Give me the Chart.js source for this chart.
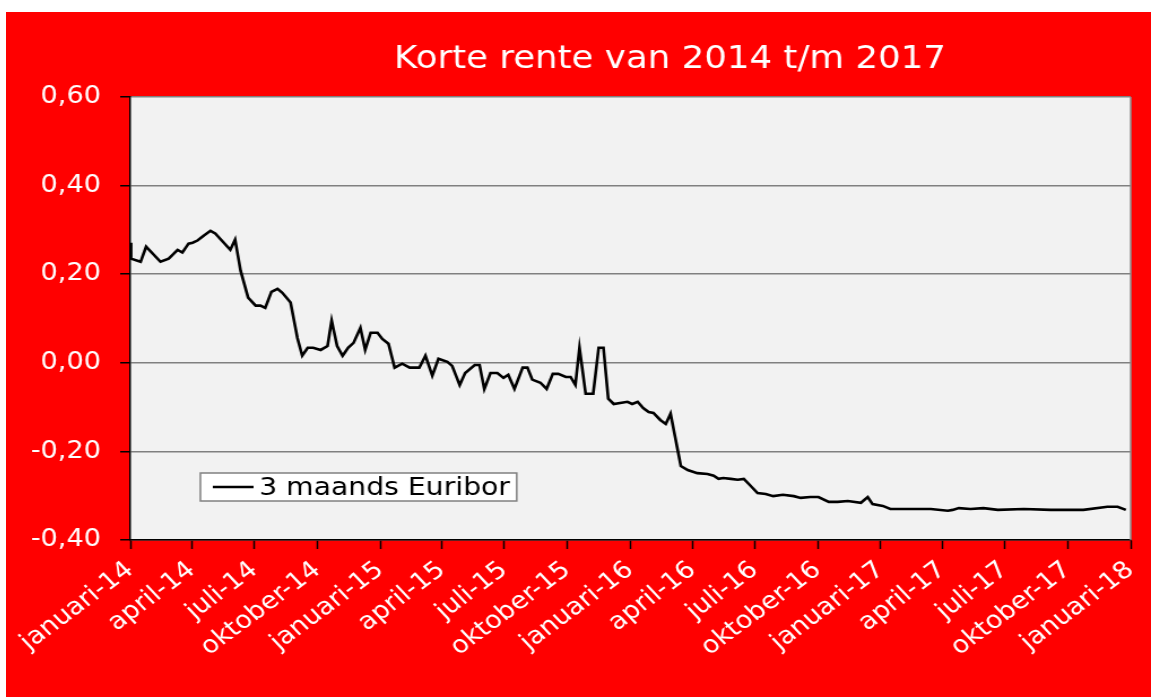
<!DOCTYPE html>
<html lang="nl">
<head>
<meta charset="utf-8">
<title>Korte rente van 2014 t/m 2017</title>
<script src="https://cdn.jsdelivr.net/npm/chart.js@4/dist/chart.umd.min.js"></script>
<style>
  html, body { margin: 0; padding: 0; background: #fff; overflow: hidden; }
  #wrap { position: absolute; left: 6px; top: 12px; }
</style>
</head>
<body>
<div id="wrap">
  <!-- drawn at 1013 wide, shown 1145 wide: the sheet is stretched sideways -->
  <canvas id="rente" width="1013" height="685" style="width:1145px;height:685px"></canvas>
</div>
<script>
// dag = days since 1 januari 2014
const dagen = [0, 1, 15, 23, 44, 56, 69, 76, 85, 91,
  98, 107, 117, 124, 146, 153, 161, 172, 183, 190,
  197, 206, 215, 222, 234, 244, 251, 259, 267, 278,
  288, 294, 302, 310, 318, 326, 336, 343, 351, 361,
  368, 377, 386, 397, 408, 422, 431, 441, 450, 463,
  470, 481, 489, 503, 510, 517, 526, 536, 545, 552,
  561, 573, 580, 587, 599, 608, 617, 625, 636, 643,
  650, 656, 665, 676, 684, 691, 698, 706, 726, 733,
  741, 749, 757, 764, 774, 782, 789, 804, 814, 828,
  843, 852, 859, 866, 877, 887, 896, 903, 916, 928,
  939, 953, 969, 979, 993, 1005, 1020, 1033, 1048, 1067,
  1077, 1084, 1099, 1110, 1169, 1194, 1201, 1210, 1227, 1246,
  1267, 1305, 1344, 1392, 1427, 1442, 1454];

// 3 maands Euribor, in procenten
const euribor = [0.271, 0.235, 0.228, 0.262, 0.228, 0.235, 0.255, 0.249, 0.269, 0.271,
  0.276, 0.287, 0.298, 0.292, 0.255, 0.278, 0.208, 0.147, 0.129, 0.129,
  0.124, 0.160, 0.167, 0.158, 0.136, 0.056, 0.016, 0.034, 0.034, 0.029,
  0.038, 0.095, 0.038, 0.016, 0.034, 0.045, 0.079, 0.029, 0.068, 0.068,
  0.054, 0.043, -0.011, -0.002, -0.011, -0.011, 0.016, -0.029, 0.009, 0.002,
  -0.007, -0.050, -0.023, -0.005, -0.005, -0.059, -0.023, -0.023, -0.034, -0.027,
  -0.059, -0.011, -0.011, -0.038, -0.045, -0.059, -0.025, -0.025, -0.032, -0.032,
  -0.050, 0.034, -0.070, -0.070, 0.034, 0.034, -0.081, -0.093, -0.088, -0.093,
  -0.088, -0.102, -0.111, -0.113, -0.129, -0.138, -0.115, -0.233, -0.242, -0.249,
  -0.251, -0.255, -0.262, -0.260, -0.262, -0.264, -0.262, -0.273, -0.294, -0.296,
  -0.301, -0.298, -0.301, -0.305, -0.303, -0.303, -0.314, -0.314, -0.312, -0.316,
  -0.303, -0.319, -0.323, -0.330, -0.330, -0.334, -0.332, -0.328, -0.330, -0.328,
  -0.332, -0.330, -0.332, -0.332, -0.325, -0.325, -0.332];

const kwartaalLabels = ['januari-14', 'april-14', 'juli-14', 'oktober-14',
  'januari-15', 'april-15', 'juli-15', 'oktober-15',
  'januari-16', 'april-16', 'juli-16', 'oktober-16',
  'januari-17', 'april-17', 'juli-17', 'oktober-17', 'januari-18'];

const startDatum = Date.UTC(2014, 0, 1);
const kwartaalDagen = kwartaalLabels.map((_, i) =>
  (Date.UTC(2014 + Math.floor(i / 4), (i % 4) * 3, 1) - startDatum) / 86400000);

const titelTekst = 'Korte rente van 2014 t/m 2017';

Chart.defaults.font.family = '"DejaVu Sans", sans-serif';

// red sheet + grey plot area
const achtergrond = {
  id: 'achtergrond',
  beforeDraw(chart) {
    const { ctx, chartArea: a } = chart;
    ctx.save();
    ctx.fillStyle = '#ff0000';
    ctx.fillRect(0, 0, chart.width, chart.height);
    ctx.fillStyle = '#f2f2f2';
    ctx.fillRect(a.left, a.top, a.right - a.left, a.bottom - a.top);
    ctx.restore();
  },
  afterDraw(chart) {
    const { ctx, chartArea: a } = chart;
    ctx.save();
    ctx.strokeStyle = '#8c8c8c';
    ctx.lineWidth = 1.5;
    ctx.beginPath();
    ctx.moveTo(a.right, a.top);
    ctx.lineTo(a.right, a.bottom);
    ctx.stroke();
    ctx.restore();
  }
};

const titel = {
  id: 'titel',
  afterDraw(chart, args, opts) {
    const { ctx, chartArea: a } = chart;
    ctx.save();
    ctx.font = '31.5px "DejaVu Sans", sans-serif';
    ctx.fillStyle = '#ffffff';
    ctx.textAlign = 'center';
    ctx.textBaseline = 'alphabetic';
    ctx.fillText(opts.text, (a.left + a.right) / 2 + opts.shiftX, opts.y);
    ctx.restore();
  }
};

// boxed legend in the lower left of the plot
const legendaKader = {
  id: 'legendaKader',
  afterDraw(chart, args, opts) {
    const { ctx, chartArea: a } = chart;
    const ds = chart.data.datasets[0];
    ctx.save();
    ctx.font = '25px "DejaVu Sans", sans-serif';
    const tw = ctx.measureText(ds.label).width;
    const x = a.left + opts.offsetX;
    const y = a.bottom - opts.offsetY;
    const w = 52 + tw + 6;
    const h = 28;
    ctx.fillStyle = '#ffffff';
    ctx.fillRect(x, y, w, h);
    ctx.strokeStyle = '#808080';
    ctx.lineWidth = 1.5;
    ctx.strokeRect(x, y, w, h);
    ctx.strokeStyle = ds.borderColor;
    ctx.lineWidth = ds.borderWidth;
    ctx.beginPath();
    ctx.moveTo(x + 11, y + h / 2);
    ctx.lineTo(x + 47, y + h / 2);
    ctx.stroke();
    ctx.fillStyle = '#000000';
    ctx.textBaseline = 'middle';
    ctx.fillText(ds.label, x + 52, y + h / 2 + 1);
    ctx.restore();
  }
};

const komma = v => v.toFixed(2).replace('.', ',');

new Chart(document.getElementById('rente'), {
  type: 'line',
  data: {
    datasets: [{
      label: '3 maands Euribor',
      data: dagen.map((d, i) => ({ x: d, y: euribor[i] })),
      borderColor: '#000000',
      borderWidth: 2.6,
      pointRadius: 0,
      tension: 0,
      fill: false
    }]
  },
  options: {
    responsive: false,
    animation: false,
    devicePixelRatio: 1,
    layout: { padding: { top: 85, right: 18, bottom: 0, left: 0 } },
    plugins: {
      legend: { display: false },
      tooltip: { enabled: false },
      titel: { text: titelTekst, shiftX: 35, y: 56 },
      legendaKader: { offsetX: 62, offsetY: 67 }
    },
    scales: {
      x: {
        type: 'linear',
        min: 0,
        max: kwartaalDagen[kwartaalDagen.length - 1],
        afterBuildTicks(axis) { axis.ticks = kwartaalDagen.map(v => ({ value: v })); },
        afterFit(axis) {
          axis.height = 157;
          // the rotated labels hang to the left, no extra room needed at the sides
          axis.paddingLeft = 0;
          axis.paddingRight = 0;
        },
        border: { color: '#000000', width: 1.5 },
        grid: { drawOnChartArea: false, tickLength: 9, tickColor: '#000000', tickWidth: 1.5 },
        ticks: {
          autoSkip: false,
          minRotation: 40,
          maxRotation: 40,
          padding: 7,
          color: '#ffffff',
          font: { size: 24 },
          callback: (v, i) => kwartaalLabels[i]
        }
      },
      y: {
        min: -0.4,
        max: 0.6,
        afterFit(axis) { axis.width = 110; },
        border: { color: '#000000', width: 1.5 },
        grid: { color: '#808080', lineWidth: 1.5, tickLength: 9, tickColor: '#000000' },
        ticks: {
          stepSize: 0.2,
          padding: 17,
          color: '#ffffff',
          font: { size: 24 },
          callback: v => komma(v)
        }
      }
    }
  },
  plugins: [achtergrond, titel, legendaKader]
});
</script>
</body>
</html>
